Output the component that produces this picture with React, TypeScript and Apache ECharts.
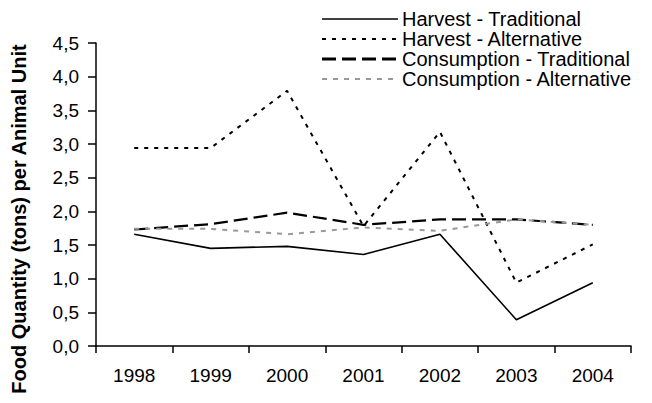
import React, { useEffect, useRef } from "react";
import * as echarts from "echarts";

const years = ["1998", "1999", "2000", "2001", "2002", "2003", "2004"];
const harvestTraditional = [1.66, 1.45, 1.48, 1.36, 1.66, 0.39, 0.94];
const harvestAlternative = [2.94, 2.94, 3.79, 1.78, 3.18, 0.94, 1.51];
const consumptionTraditional = [1.73, 1.81, 1.98, 1.8, 1.88, 1.88, 1.8];
const consumptionAlternative = [1.74, 1.74, 1.66, 1.76, 1.71, 1.88, 1.8];
const seriesNames = [
  "Harvest - Traditional",
  "Harvest - Alternative",
  "Consumption - Traditional",
  "Consumption - Alternative",
];
const yTitle = "Food Quantity (tons) per Animal Unit";

const styles: { color: string; width: number; type: any }[] = [
  { color: "#000000", width: 1.6, type: "solid" },
  { color: "#000000", width: 2, type: [4, 6] },
  { color: "#000000", width: 2.2, type: [14, 6] },
  { color: "#999999", width: 2, type: [5, 6] },
];

export default function App() {
  const ref = useRef<HTMLDivElement>(null);
  useEffect(() => {
    if (!ref.current) return;
    const chart = echarts.init(ref.current, null, { renderer: "svg" });
    const font = "'Liberation Sans', Arial, sans-serif";
    const allData = [harvestTraditional, harvestAlternative, consumptionTraditional, consumptionAlternative];
    const legendEls: any[] = [];
    seriesNames.forEach((name, i) => {
      const y = 19 + i * 20;
      const s = styles[i];
      legendEls.push({
        type: "line",
        shape: { x1: 322, y1: y, x2: 398, y2: y },
        style: { stroke: s.color, lineWidth: i === 2 ? 3 : s.width, lineDash: s.type === "solid" ? null : s.type },
      });
      legendEls.push({
        type: "text",
        x: 402,
        y,
        style: {
          text: name,
          fill: "#000",
          font: `20px ${font}`,
          textAlign: "left",
          textVerticalAlign: "middle",
        },
      });
    });
    chart.setOption({
      animation: false,
      backgroundColor: "#ffffff",
      textStyle: { fontFamily: font },
      grid: { left: 96, right: 21, top: 43, bottom: 57, containLabel: false },
      xAxis: {
        type: "category",
        data: years,
        boundaryGap: true,
        axisLine: { lineStyle: { color: "#000", width: 1.5 } },
        axisTick: { show: true, length: 7, lineStyle: { color: "#000", width: 1.5 } },
        axisLabel: { color: "#000", fontSize: 19, fontFamily: font, margin: 20 },
        splitLine: { show: false },
      },
      yAxis: {
        type: "value",
        min: 0,
        max: 4.5,
        interval: 0.5,
        axisLine: { show: true, lineStyle: { color: "#000", width: 1.5 } },
        axisTick: { show: true, length: 8, lineStyle: { color: "#000", width: 1.5 } },
        axisLabel: {
          color: "#000",
          fontSize: 19,
          fontFamily: font,
          margin: 17,
          formatter: (v: number) => v.toFixed(1).replace(".", ","),
        },
        splitLine: { show: false },
      },
      graphic: [
        {
          type: "text",
          x: 19,
          y: 219,
          rotation: Math.PI / 2,
          style: {
            text: yTitle,
            fill: "#000",
            font: `bold 20px ${font}`,
            textAlign: "center",
            textVerticalAlign: "middle",
          },
        },
        ...legendEls,
      ],
      series: seriesNames.map((name, i) => ({
        name,
        type: "line",
        data: allData[i],
        symbol: "none",
        showSymbol: false,
        lineStyle: { color: styles[i].color, width: styles[i].width, type: styles[i].type },
        itemStyle: { color: styles[i].color },
      })),
    });
    return () => chart.dispose();
  }, []);
  return <div ref={ref} style={{ width: 652, height: 403, position: "absolute", left: 0, top: 0 }} />;
}
